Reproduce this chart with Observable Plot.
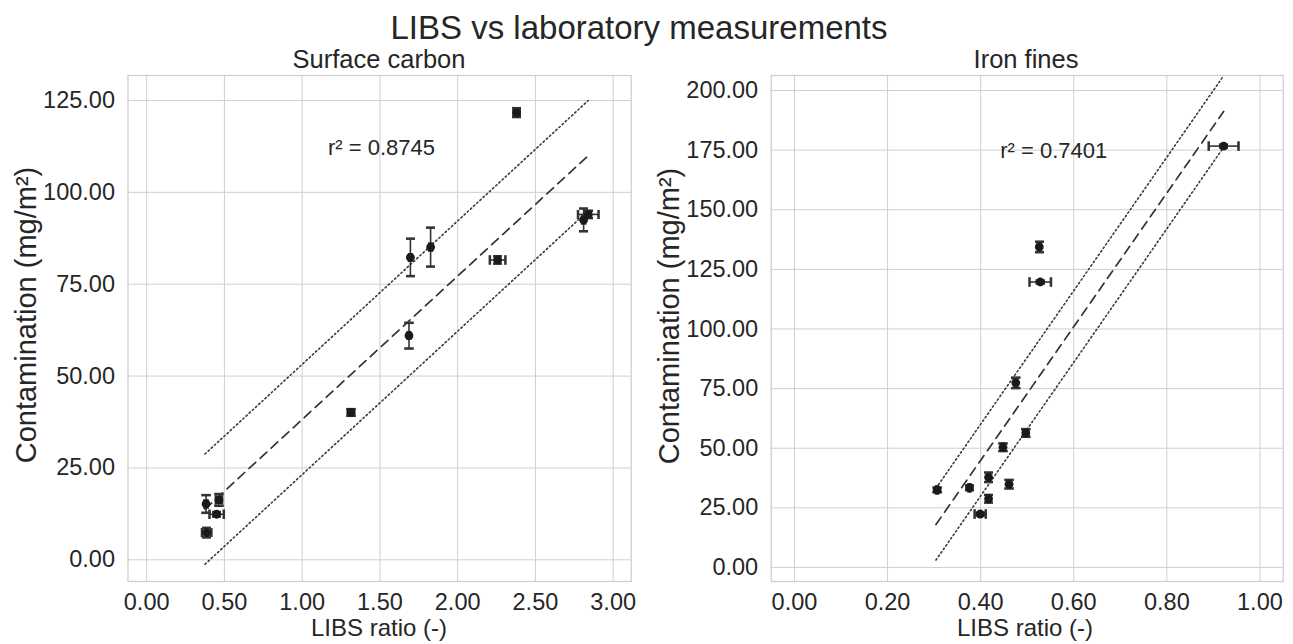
<!DOCTYPE html>
<html><head><meta charset="utf-8">
<script src="https://cdn.jsdelivr.net/npm/d3@7"></script>
<script src="https://cdn.jsdelivr.net/npm/@observablehq/plot@0.6"></script>
<style>
body{margin:0;background:#fff;font-family:"Liberation Sans",Arial,sans-serif;}
#wrap{position:relative;width:1293px;height:644px;overflow:hidden;background:#fff;}
.t{position:absolute;color:#262626;white-space:nowrap;transform:translate(-50%,-50%);line-height:1;}
.r{transform:translate(-50%,-50%) rotate(-90deg);}
</style></head><body>
<div id="wrap">
  <div class="t" style="left:639px;top:27px;font-size:33px">LIBS vs laboratory measurements</div>
  <div class="t" style="left:379px;top:60px;font-size:25.5px">Surface carbon</div>
  <div class="t" style="left:1026px;top:60px;font-size:25.5px">Iron fines</div>
  <div id="p1" style="position:absolute;left:0;top:0"></div>
  <div id="p2" style="position:absolute;left:645px;top:0"></div>
  <div class="t r" style="left:26px;top:315px;font-size:29px">Contamination (mg/m²)</div>
  <div class="t r" style="left:669px;top:316px;font-size:29px">Contamination (mg/m²)</div>
  <div class="t" style="left:379px;top:628px;font-size:24px">LIBS ratio (-)</div>
  <div class="t" style="left:1025px;top:628px;font-size:24px">LIBS ratio (-)</div>
</div>
<script>
// ---- Surface carbon ----
const carbonX    = [2.379, 1.696, 1.826, 2.257, 1.687, 1.314, 2.81, 2.84, 0.382, 0.465, 0.450, 0.386];
const carbonY    = [121.7, 82.3, 85.1, 81.6, 61.0, 40.1, 92.5, 94.0, 15.2, 16.3, 12.4, 7.4];
const carbonXErr = [0.02, 0.008, 0.008, 0.05, 0.008, 0.02, 0.01, 0.066, 0.01, 0.02, 0.046, 0.03];
const carbonYErr = [1.2, 5.1, 5.3, 1.0, 3.5, 0.9, 3.1, 1.0, 2.4, 1.6, 0.6, 1.3];
const carbonFitX    = [0.375, 2.84];
const carbonFitY    = [13.8, 110.0];
const carbonUpperY  = [28.8, 125.0];
const carbonLowerY  = [-1.2, 95.0];
const carbonR2      = "r² = 0.8745";
const carbonR2Pos   = [1.51, 112.0];
const carbonXTicks  = [0, 0.5, 1, 1.5, 2, 2.5, 3];
const carbonYTicks  = [0, 25, 50, 75, 100, 125];

// ---- Iron fines ----
const ironX    = [0.922, 0.526, 0.528, 0.4755, 0.497, 0.448, 0.417, 0.461, 0.376, 0.3065, 0.417, 0.399];
const ironY    = [176.7, 134.4, 119.7, 77.4, 56.4, 50.4, 37.8, 34.9, 33.4, 32.5, 28.8, 22.4];
const ironXErr = [0.032, 0.003, 0.023, 0.003, 0.005, 0.003, 0.003, 0.003, 0.002, 0.002, 0.002, 0.012];
const ironYErr = [0.6, 2.2, 0.6, 2.2, 1.6, 1.6, 2.0, 1.8, 1.0, 1.0, 1.6, 0.6];
const ironFitX    = [0.304, 0.922];
const ironFitY    = [18.0, 191.2];
const ironUpperY  = [33.2, 206.2];
const ironLowerY  = [3.1, 176.2];
const ironR2      = "r² = 0.7401";
const ironR2Pos   = [0.557, 174.7];
const ironXTicks  = [0, 0.2, 0.4, 0.6, 0.8, 1.0];
const ironYTicks  = [0, 25, 50, 75, 100, 125, 150, 175, 200];

function panel(o) {
  const pts = o.x.map((v, i) => ({x: v, y: o.y[i], xe: o.xe[i], ye: o.ye[i]}));
  const fit = o.fx.map((v, i) => ({x: v, y: o.fy[i], u: o.uy[i], l: o.ly[i]}));
  const grid = "#cfcfcf", ink = "#262626";
  return Plot.plot({
    width: o.width, height: 644,
    marginLeft: o.ml, marginRight: o.mr, marginTop: 75, marginBottom: 63,
    style: {fontFamily: '"Liberation Sans", Arial, sans-serif', fontSize: "23.5px", color: ink, background: "transparent"},
    x: {domain: o.xd, ticks: o.xt, tickFormat: d3.format(".2f"), label: null},
    y: {domain: o.yd, ticks: o.yt, tickFormat: d3.format(".2f"), label: null},
    marks: [
      Plot.gridX(o.xt, {stroke: grid, strokeOpacity: 1, strokeWidth: 1}),
      Plot.gridY(o.yt, {stroke: grid, strokeOpacity: 1, strokeWidth: 1}),
      Plot.frame({stroke: grid, strokeWidth: 1.3}),
      Plot.axisX(o.xt, {tickSize: 0, tickPadding: 12, tickFormat: d3.format(".2f"), fill: ink, label: null}),
      Plot.axisY(o.yt, {tickSize: 0, tickPadding: 13, tickFormat: d3.format(".2f"), fill: ink, label: null}),
      Plot.line(fit, {x: "x", y: "u", stroke: "#3a3a3a", strokeWidth: 1.6, strokeDasharray: "1.5,2.8", clip: true}),
      Plot.line(fit, {x: "x", y: "l", stroke: "#3a3a3a", strokeWidth: 1.6, strokeDasharray: "1.5,2.8", clip: true}),
      Plot.line(fit, {x: "x", y: "y", stroke: "#333", strokeWidth: 1.7, strokeDasharray: "9,6", clip: true}),
      Plot.link(pts, {x1: "x", x2: "x", y1: d => d.y - d.ye, y2: d => d.y + d.ye, stroke: "#333", strokeWidth: 1.6, markerStart: "tick", markerEnd: "tick"}),
      Plot.link(pts, {y1: "y", y2: "y", x1: d => d.x - d.xe, x2: d => d.x + d.xe, stroke: "#333", strokeWidth: 1.6, markerStart: "tick", markerEnd: "tick"}),
      Plot.dot(pts, {x: "x", y: "y", r: 4.4, fill: "#1a1a1a", stroke: null}),
      Plot.text([o.r2], {x: o.r2p[0], y: o.r2p[1], text: d => d, fontSize: 22, fill: ink})
    ]
  });
}

document.getElementById("p1").append(panel({
  width: 645, ml: 127.5, mr: 14.3,
  x: carbonX, y: carbonY, xe: carbonXErr, ye: carbonYErr,
  fx: carbonFitX, fy: carbonFitY, uy: carbonUpperY, ly: carbonLowerY,
  xd: [-0.12, 3.116], yd: [-5.9, 131.8], xt: carbonXTicks, yt: carbonYTicks,
  r2: carbonR2, r2p: carbonR2Pos
}));
document.getElementById("p2").append(panel({
  width: 648, ml: 125.7, mr: 10.3,
  x: ironX, y: ironY, xe: ironXErr, ye: ironYErr,
  fx: ironFitX, fy: ironFitY, uy: ironUpperY, ly: ironLowerY,
  xd: [-0.05, 1.05], yd: [-5.9, 206.3], xt: ironXTicks, yt: ironYTicks,
  r2: ironR2, r2p: ironR2Pos
}));
</script>
</body></html>
